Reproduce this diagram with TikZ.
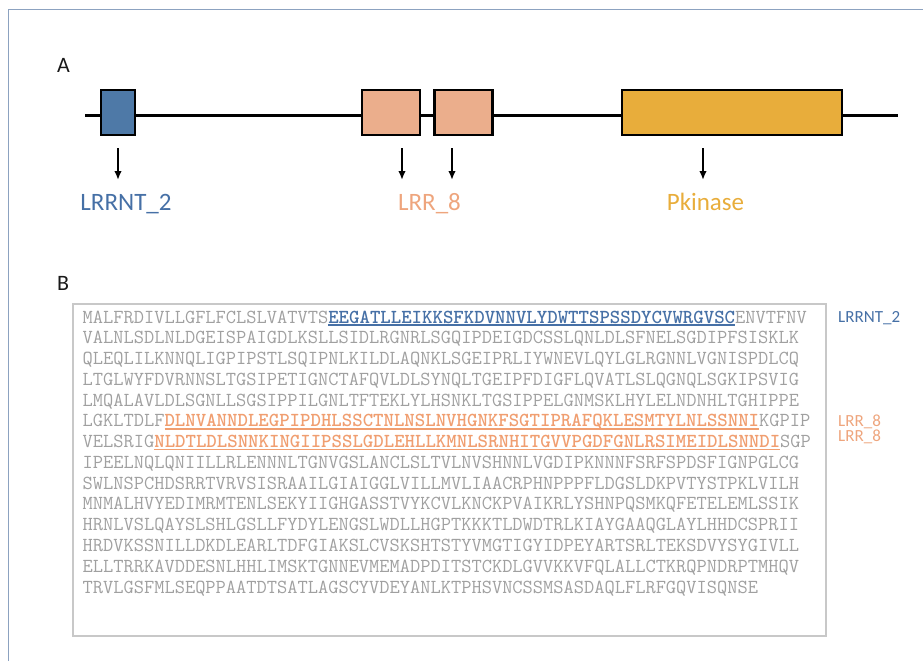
\documentclass[tikz,border=0pt]{standalone}
\usepackage{fontspec}
\setmainfont{Carlito}
\usetikzlibrary{arrows.meta}
\definecolor{frameblue}{RGB}{140,162,192}
\definecolor{boxgray}{RGB}{200,200,200}
\definecolor{seqgray}{RGB}{160,160,160}
\definecolor{domblue}{RGB}{78,121,167}
\definecolor{domsalmon}{RGB}{235,174,140}
\definecolor{domgold}{RGB}{232,173,59}
\definecolor{txtblue}{RGB}{70,112,166}
\definecolor{txtsalmon}{RGB}{238,165,125}
\definecolor{seqorange}{RGB}{240,158,112}
\newcommand\ulbold[2]{{\color{#1}\setbox0\hbox{\bfseries\addfontfeatures{FakeBold=2.5}#2}\rlap{\rule[-2.6pt]{\wd0}{1.3pt}}\box0}}
\tikzset{
  dombox/.style={draw=black, line width=2.6pt, minimum height=45pt, inner sep=0pt},
  downarrow/.style={line width=1.8pt, -{Latex[length=9pt,width=7.5pt]}},
  biglabel/.style={font=\fontsize{25}{30}\selectfont, inner sep=0pt, anchor=base},
  panel/.style={font=\fontsize{22}{26}\selectfont, text=black!90, inner sep=0pt, anchor=base west},
  seqline/.style={font=\ttfamily\fontsize{19.87}{22}\selectfont, text=seqgray, inner sep=0pt, anchor=base west},
  sidelabel/.style={font=\fontsize{17}{20}\selectfont, inner sep=0pt, anchor=base west}
}
\begin{document}
\begin{tikzpicture}[x=1pt,y=-1pt]
\useasboundingbox (0,0) rectangle (923,661);
% outer frame
\draw[frameblue, line width=1.2pt] (8.5,661) -- (8.5,9.5) -- (923,9.5);
% panel letters
\node[panel] (pA) at (57,72.5) {A};
\node[panel] (pB) at (57,290.5) {B};
% backbone
\coordinate (bbs) at (85,115);
\coordinate (bbe) at (898,115);
\draw[line width=3pt] (bbs) -- (bbe);
% domains
\node[dombox, fill=domblue, minimum width=34pt] (d1) at (118,112.5) {};
\node[dombox, fill=domsalmon, minimum width=58pt] (d2) at (391,112.5) {};
\node[dombox, fill=domsalmon, minimum width=58pt] (d3) at (463.5,112.5) {};
\node[dombox, fill=domgold, minimum width=220pt] (d4) at (732,112.5) {};
% arrows
\coordinate (a1s) at (118,148); \coordinate (a1e) at (118,180);
\coordinate (a2s) at (402,148); \coordinate (a2e) at (402,180);
\coordinate (a3s) at (452,148); \coordinate (a3e) at (452,180);
\coordinate (a4s) at (703,148); \coordinate (a4e) at (703,180);
\draw[downarrow] (a1s) -- (a1e);
\draw[downarrow] (a2s) -- (a2e);
\draw[downarrow] (a3s) -- (a3e);
\draw[downarrow] (a4s) -- (a4e);
% labels
\node[biglabel, text=txtblue] (l1) at (126,210) {LRRNT\_2};
\node[biglabel, text=txtsalmon] (l2) at (429.5,210) {LRR\_8};
\node[biglabel, text=domgold] (l3) at (705.5,210) {Pkinase};
% sequence box
\node[draw=boxgray, line width=1.6pt, minimum width=753pt, minimum height=332pt, inner sep=0pt] (sbox) at (449.5,470) {};
% sequence lines
\node[seqline] (s1) at (82.5,323.0) {MALFRDIVLLGFLFCLSLVATVTS\ulbold{txtblue}{EEGATLLEIKKSFKDVNNVLYDWTTSPSSDYCVWRGVSC}ENVTFNV};
\node[seqline] (s2) at (82.5,343.8) {VALNLSDLNLDGEISPAIGDLKSLLSIDLRGNRLSGQIPDEIGDCSSLQNLDLSFNELSGDIPFSISKLK};
\node[seqline] (s3) at (82.5,364.5) {QLEQLILKNNQLIGPIPSTLSQIPNLKILDLAQNKLSGEIPRLIYWNEVLQYLGLRGNNLVGNISPDLCQ};
\node[seqline] (s4) at (82.5,385.3) {LTGLWYFDVRNNSLTGSIPETIGNCTAFQVLDLSYNQLTGEIPFDIGFLQVATLSLQGNQLSGKIPSVIG};
\node[seqline] (s5) at (82.5,406.1) {LMQALAVLDLSGNLLSGSIPPILGNLTFTEKLYLHSNKLTGSIPPELGNMSKLHYLELNDNHLTGHIPPE};
\node[seqline] (s6) at (82.5,426.9) {LGKLTDLF\ulbold{seqorange}{DLNVANNDLEGPIPDHLSSCTNLNSLNVHGNKFSGTIPRAFQKLESMTYLNLSSNNI}KGPIP};
\node[seqline] (s7) at (82.5,447.6) {VELSRIG\ulbold{seqorange}{NLDTLDLSNNKINGIIPSSLGDLEHLLKMNLSRNHITGVVPGDFGNLRSIMEIDLSNNDI}SGP};
\node[seqline] (s8) at (82.5,468.4) {IPEELNQLQNIILLRLENNNLTGNVGSLANCLSLTVLNVSHNNLVGDIPKNNNFSRFSPDSFIGNPGLCG};
\node[seqline] (s9) at (82.5,489.2) {SWLNSPCHDSRRTVRVSISRAAILGIAIGGLVILLMVLIAACRPHNPPPFLDGSLDKPVTYSTPKLVILH};
\node[seqline] (s10) at (82.5,509.9) {MNMALHVYEDIMRMTENLSEKYIIGHGASSTVYKCVLKNCKPVAIKRLYSHNPQSMKQFETELEMLSSIK};
\node[seqline] (s11) at (82.5,530.7) {HRNLVSLQAYSLSHLGSLLFYDYLENGSLWDLLHGPTKKKTLDWDTRLKIAYGAAQGLAYLHHDCSPRII};
\node[seqline] (s12) at (82.5,551.5) {HRDVKSSNILLDKDLEARLTDFGIAKSLCVSKSHTSTYVMGTIGYIDPEYARTSRLTEKSDVYSYGIVLL};
\node[seqline] (s13) at (82.5,572.2) {ELLTRRKAVDDESNLHHLIMSKTGNNEVMEMADPDITSTCKDLGVVKKVFQLALLCTKRQPNDRPTMHQV};
\node[seqline] (s14) at (82.5,593.0) {TRVLGSFMLSEQPPAATDTSATLAGSCYVDEYANLKTPHSVNCSSMSASDAQLFLRFGQVISQNSE};
% side labels
\node[sidelabel, text=txtblue] (r1) at (838,322.7) {LRRNT\_2};
\node[sidelabel, text=txtsalmon] (r2) at (838,426) {LRR\_8};
\node[sidelabel, text=txtsalmon] (r3) at (838,441.7) {LRR\_8};
\end{tikzpicture}
\end{document}
